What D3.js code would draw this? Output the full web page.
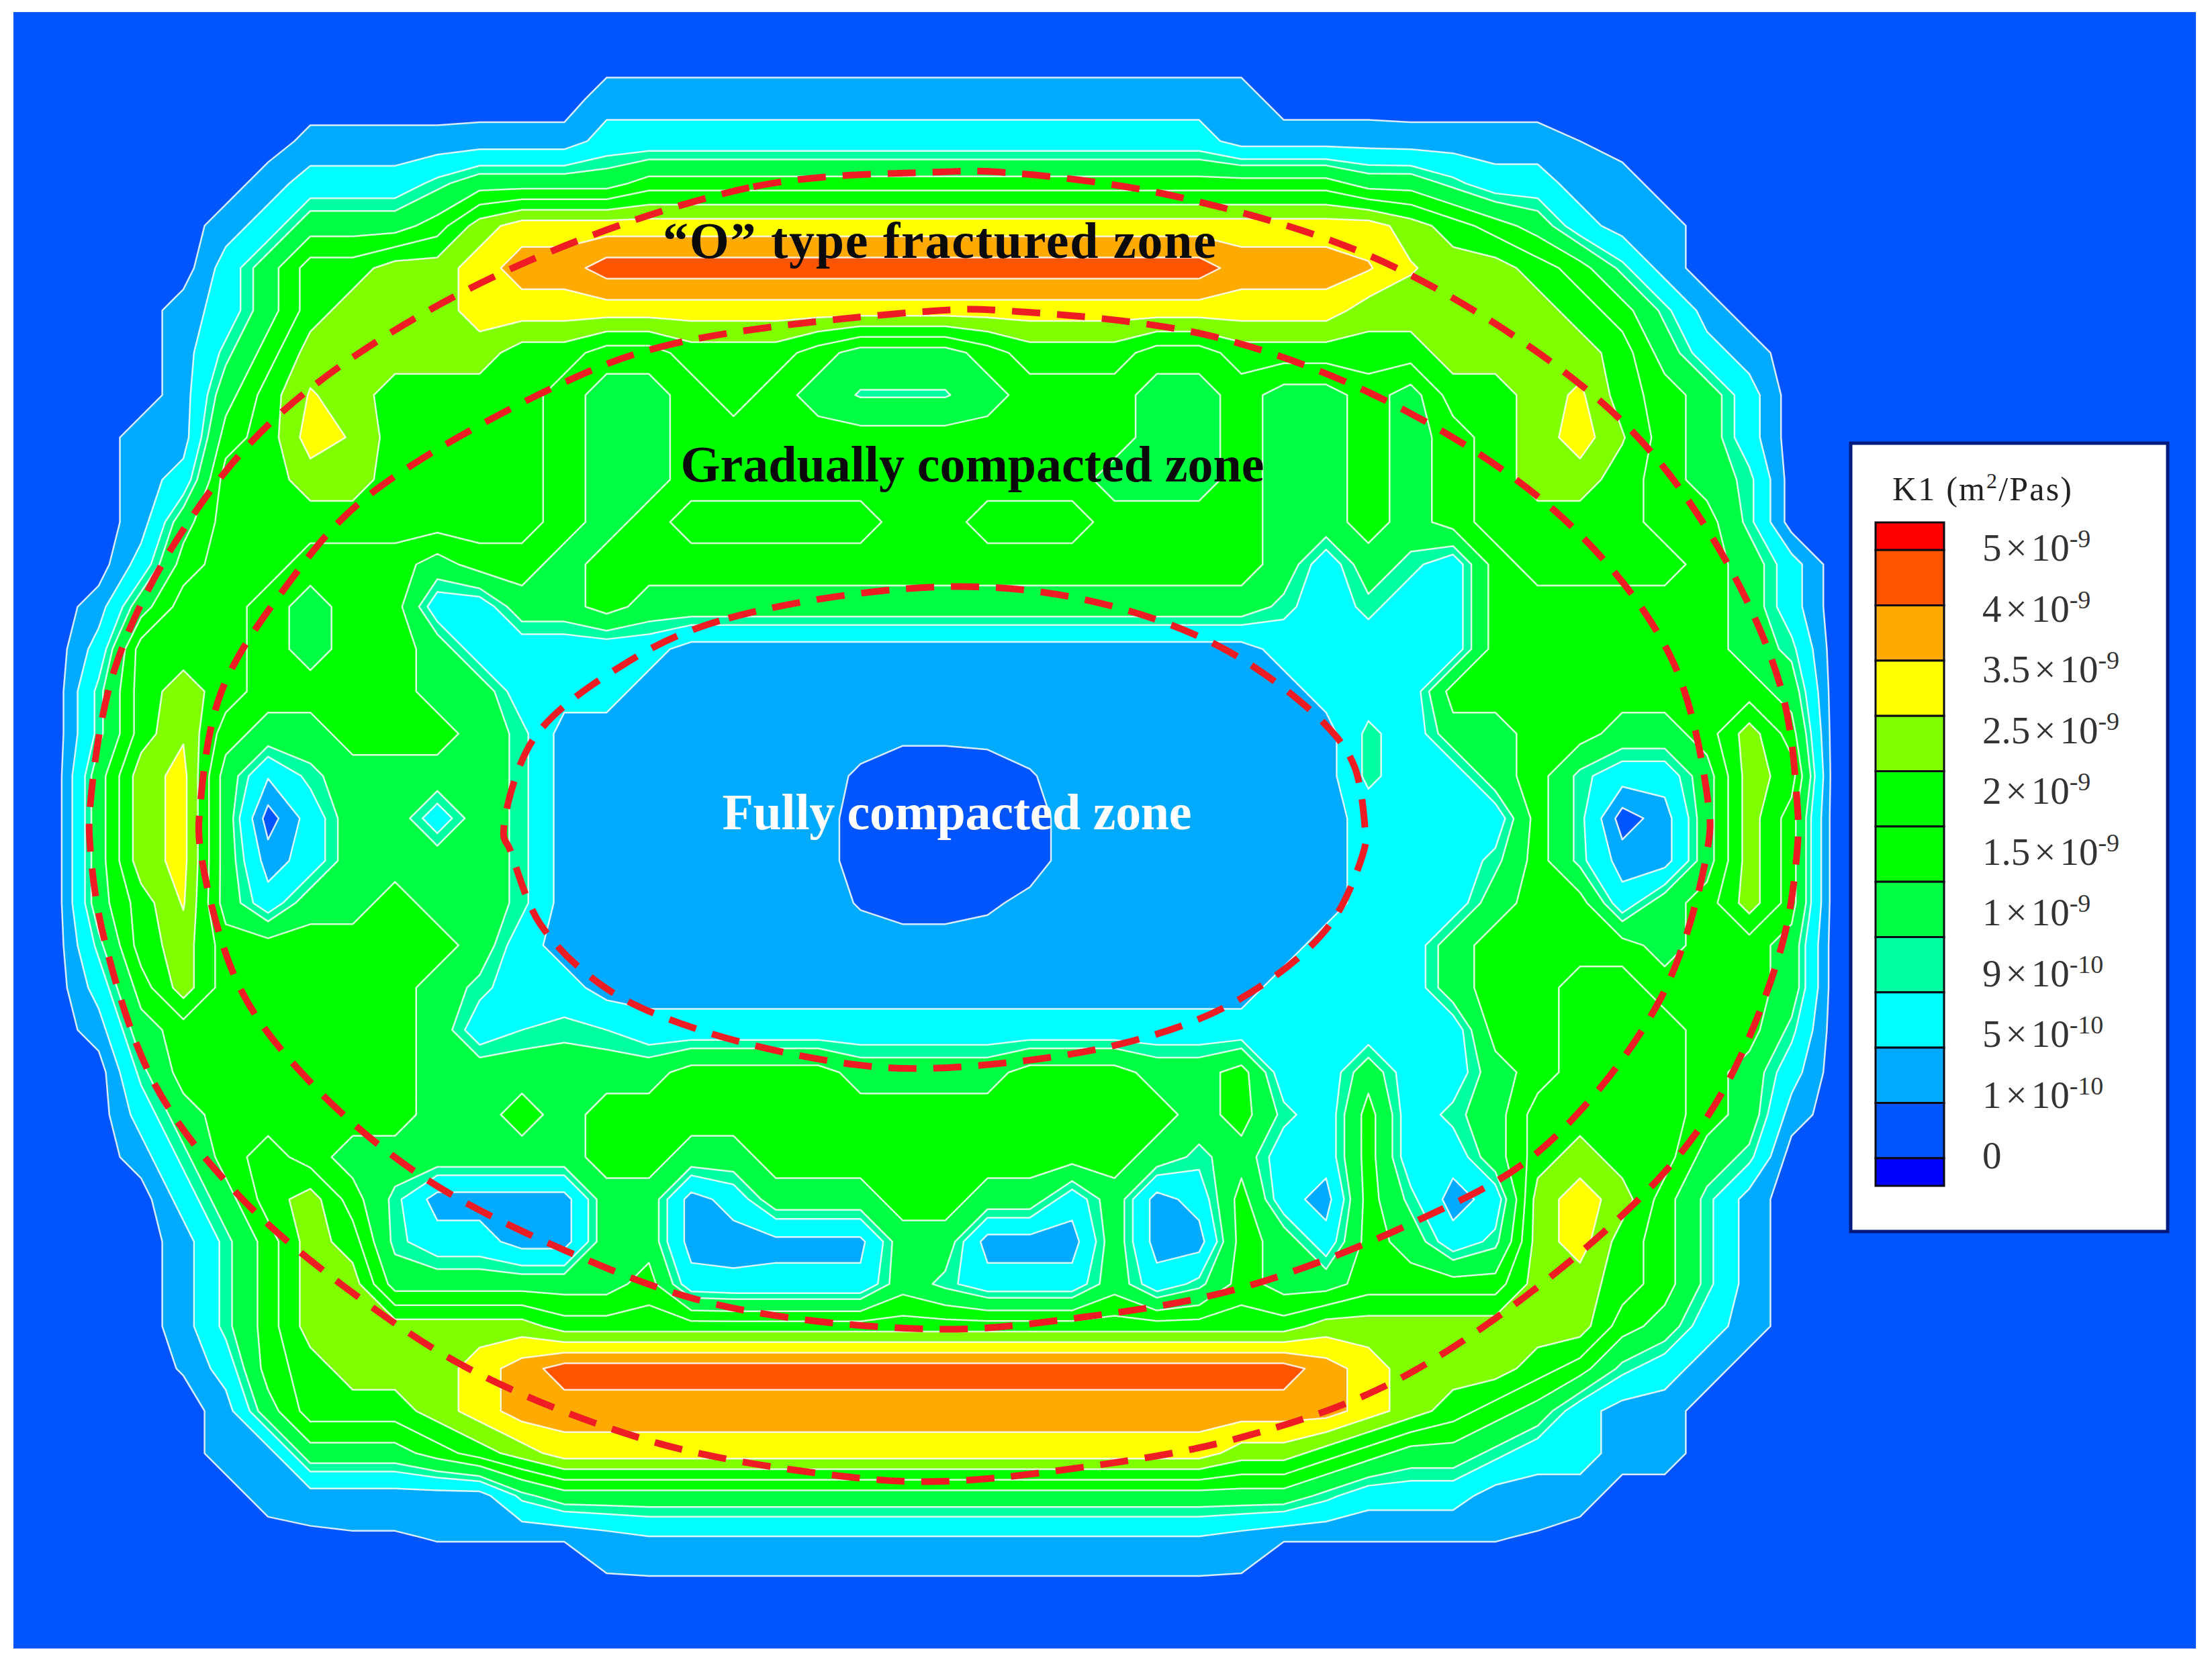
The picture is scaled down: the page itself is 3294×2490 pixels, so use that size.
<!DOCTYPE html>
<html>
<head>
<meta charset="utf-8">
<script src="https://d3js.org/d3.v7.min.js"></script>
<style>
  html, body { margin: 0; padding: 0; background: #fff; }
  text { font-family: "Liberation Serif", serif; }
</style>
</head>
<body>
<div id="chart"></div>
<script>
  // permeability band at every mesh node, row by row,
  // written as level*count runs (mesh step = 30 picture units)
  var permeabilityRows = [
    "1*53",
    "1*53",
    "1*14 2*16 1*23",
    "1*7 1.8*4 1.9*3 3*15 2*4 1.9*4 1.5 1*15",
    "1*6 2 3*3 4 5*4 6*17 5*2 4 3*2 2*2 1*14",
    "1*5 2 3 5*3 6 8 9*21 8 7 6 5 3 2*2 1*13",
    "1*5 3 5 7*2 8*2 9 10*2 11*15 10*3 9.6 8.6 8*2 7 6 4 2 1*13",
    "1*4 2 3 5 7 8*3 9*21 8*5 7 6 4 2 1*12",
    "1*4 2 4 6 8*5 7*2 6*2 7*3 6 5*3 6 7*3 6*2 7*5 8*4 7 5 3 2 1*11",
    "1*4 2 5 7 8.6 8 7*4 6 5*2 6 7 6 5 4.2*3 5 6*3 5*2 6 5*2 6 5 7*2 8 8.7 7 6 5 3 1*11",
    "1*3 2*2 6 7 9 8.4 7*4 6 5*2 6*11 5*2 6 5*2 6 5 6 7 8 9 7.6 6 5 3 1*11",
    "1*3 2 3 7*2 8*2 7*4 6 5*2 6*10 5*3 6 5*2 6 5 6 7 8*2 7 6 5 4 1*11",
    "1*3 2 5 7*8 6 5 6 7*5 6*2 7*3 6*4 5*2 6 5 6 7*4 6*2 4 1*11",
    "1*3 3 6 7*2 6*3 5 6*2 5 6*16 5 3 5 4 3 6 7*4 6 5 3 1*10",
    "1*2 2 5 7*2 6 5 6*2 3*2 5*2 6 5*15 4 3 4 3*2 6*6 5 3 1*10",
    "1*2 3 7*3 6 5 6*2 5 3*5 2*14 3*5 6*6 5 4 1*10",
    "1*2 4 7 8 7 6*4 5*2 3*3 2*16 3*3 6*8 5 1*10",
    "1*2 4 7 8.4 6 5*2 6*3 5 4 2*8 1.7*2 1.8 2*8 4 3 5*2 6*2 5*2 6 8 6 1*10",
    "1*2 5 8.1 8.8 5 2.6 4 5*4 4 2*7 1.3 1*3 1.4 2*7 4 3*2 5 6 4 3*2 5 8 7 1*10",
    "1*2 5 8.1 8.8 5 1 3 5*2 3 5 4 2*7 1*5 2*7 3*4 6 4 1 2 5 8 6 1*10",
    "1*2 5 8.1 8.8 5 2 3 5*4 4 2*7 1*5 2*7 3*3 4 6 4 2*2 5 8 6 1*10",
    "1*2 5 7 8.6 5 3 5*2 6 5*2 4 2*7 1.4 1*2 1.3 1.8 2*7 3*3 5 6*2 3 5 6 8 6 1*10",
    "1*2 4 7 8 6*6 5 3 2*18 3*3 5 6*4 5 6*2 5 1*10",
    "1*2 3 6 8 6*5 5 4 3*2 2*16 3*4 5 6*2 7*2 6*3 5 1*10",
    "1*2 2 5 6*6 5 3 3.7 4 3.7 3*20 6*2 7*3 6*2 4 1*10",
    "1*3 4 6*6 5*6 6*4 5*4 6*3 5*2 6 3*2 5 3*2 5 6 7*3 6 5 3 1*10",
    "1*3 3 5 6*5 5*2 6 5 6*14 5 6 4 3 6 3 4 5 7*4 6 5 2 1*10",
    "1*3 2 4 6 7 6 5*6 6*2 5*2 6*9 5 4 5 3*2 6 3*2 5 7 8 7*2 5 4 1*11",
    "1*4 3 5 7 8 6 4 2*4 5*2 2 3 5*3 6*2 5*2 3 5 2 3 6 3 2 6 4 2 3 8 9 8 6 4 2 1*11",
    "1*4 2 4 6 8 7 4 3*2 2*2 5*2 2*2 2.2*3 5*2 2*3 5 2*2 6 5 3 6 5 3 4 8 9 7 6 4 2 1*11",
    "1*4 2 4 6 8*2 5*6 6 3 2.8*4 5 4 3*3 5 3 4 6 5*2 6*4 8*2 7 6 4 2 1*11",
    "1*4 2 4 6 8*6 7*18 8*7 6 5 3 2 1*11",
    "1*4 1.6 3 6 7 8*3 9 10 11*18 10 9 8*3 7 6 4 3 2 1*12",
    "1*5 2 5 7*3 8 9 10*20 9 8 7 6 5 3 2*2 1*13",
    "1*5 2*2 5*3 6 7 8 9*16 8*2 7 6 5*2 4 3*2 2*2 1*13",
    "1*6 2*6 4 5*18 4 3*3 2*3 1*15",
    "1*7 1.3 1.4*2 1.55*4 2 2.4*14 2 1.55*6 1.4 1*16",
    "1*14 1.4*16 1*23",
    "1*53",
    "1*53"
  ];

  // lower edge of each drawn band on the node scale, the 9e-10 band is a thin one
  var bandLevels = [2, 3, 4, 5, 6, 7, 8, 9, 10, 11];
  var bandFloors = [1.5, 2.5, 3.7, 4.3, 5.5, 6.5, 7.5, 8.5, 9.5, 10.5];

  // top to bottom in the legend bar
  var legendColors = ["#ff0000", "#ff5500", "#ffaa00", "#ffff00", "#80ff00", "#00ff00",
                      "#00ff00", "#00ff44", "#00ffa0", "#00ffff", "#00aaff", "#0055ff", "#0000ff"];
  var legendMantissa = ["5", "4", "3.5", "2.5", "2", "1.5", "1", "9", "5", "1", "0"];
  var legendExponent = ["-9", "-9", "-9", "-9", "-9", "-9", "-9", "-10", "-10", "-10", ""];

  // dashed zone outlines, picture units
  var outerZone = [[663,122],[531,133],[340,201],[200,292],[127,380],[81,475],[64,570],[64,602],
    [74,666],[110,769],[170,848],[255,920],[340,974],[467,1023],[595,1046],[663,1050],[752,1042],
    [879,1019],[998,974],[1147,864],[1215,784],[1262,674],[1274,602],[1274,570],[1262,486],
    [1215,383],[1143,292],[990,190],[837,140],[709,122]];
  var middleZone = [[667,220],[480,243],[400,271],[259,353],[204,414],[157,490],[142,570],[142,602],
    [170,700],[221,768],[298,833],[400,886],[510,925],[663,942],[764,934],[879,913],[1007,864],
    [1092,815],[1177,708],[1211,598],[1211,570],[1185,467],[1113,372],[998,292],[862,239],[709,220]];
  var innerZone = [[663,416],[510,440],[442,471],[378,524],[357,592],[361,601],[383,655],[429,700],
    [493,729],[595,753],[663,757],[794,740],[879,708],[943,655],[968,598],[968,592],[960,543],
    [939,513],[866,459],[769,425]];

  var width = 3294;
  var height = 2490;

  // unpack the runs into one flat list of node values
  var nodeRows = permeabilityRows.map(function(row) {
    var out = [];
    row.split(" ").forEach(function(run) {
      var p = run.split("*");
      for (var k = 0; k < (p.length > 1 ? +p[1] : 1); k++) out.push(+p[0]);
    });
    return out;
  });
  var nCols = nodeRows[0].length;
  var nRows = nodeRows.length;
  var values = d3.merge(nodeRows);

  var x = d3.scaleLinear().domain([0, 1568]).range([0, width]);
  var y = d3.scaleLinear().domain([0, 1185]).range([0, height]);
  var gridX = d3.scaleLinear().domain([0, nCols - 1]).range([x(10), x(10 + 30 * (nCols - 1))]);
  var gridY = d3.scaleLinear().domain([0, nRows - 1]).range([y(10), y(10 + 30 * (nRows - 1))]);

  // legend colour of a mesh level: level 12 is the red on top, level 0 the dark blue
  var levelColor = d3.scaleOrdinal()
    .domain(d3.range(12, -1, -1))
    .range(legendColors);

  var svg = d3.select("#chart").append("svg")
    .attr("width", width)
    .attr("height", height)
    .style("display", "block");

  svg.append("clipPath").attr("id", "plotClip")
    .append("rect")
    .attr("x", 20).attr("y", 18).attr("width", 3250).attr("height", 2437);

  var plot = svg.append("g").attr("clip-path", "url(#plotClip)");

  plot.append("rect")
    .attr("x", 20).attr("y", 18).attr("width", 3250).attr("height", 2437)
    .attr("fill", levelColor(1));

  // contours come back with node i at i + 0.5
  var project = d3.geoPath(d3.geoTransform({
    point: function(cx, cy) {
      this.stream.point(gridX(cx - 0.5), gridY(cy - 0.5));
    }
  }));

  var contours = d3.contours()
    .size([nCols, nRows])
    .thresholds(bandFloors)(values);

  plot.selectAll("path.band")
    .data(contours)
    .join("path")
    .attr("class", "band")
    .attr("d", project)
    .attr("fill", function(d, i) { return levelColor(bandLevels[i]); })
    .attr("stroke", "#ffffff")
    .attr("stroke-opacity", 0.85)
    .attr("stroke-width", 2.5)
    .attr("stroke-linejoin", "round");

  // dashed zone lines
  var zoneLine = d3.line()
    .x(function(d) { return x(d[0]); })
    .y(function(d) { return y(d[1]); })
    .curve(d3.curveCatmullRomClosed.alpha(0.5));

  plot.selectAll("path.zone")
    .data([outerZone, middleZone, innerZone])
    .join("path")
    .attr("class", "zone")
    .attr("d", zoneLine)
    .attr("fill", "none")
    .attr("stroke", "#f01c24")
    .attr("stroke-width", 10)
    .attr("stroke-dasharray", "42,25");

  // zone names
  var zoneText = svg.append("g")
    .attr("font-weight", "bold")
    .attr("font-size", 76)
    .attr("text-anchor", "middle");

  zoneText.append("text").attr("x", 1399).attr("y", 384)
    .attr("textLength", 824).attr("fill", "#0a0a0a")
    .text("\u201cO\u201d type fractured zone");
  zoneText.append("text").attr("x", 1448).attr("y", 717)
    .attr("textLength", 869).attr("fill", "#0a0a0a")
    .text("Gradually compacted zone");
  zoneText.append("text").attr("x", 1425).attr("y", 1235)
    .attr("textLength", 699).attr("fill", "#ffffff")
    .text("Fully compacted zone");

  // legend box
  var legend = svg.append("g");

  legend.append("rect")
    .attr("x", 2756).attr("y", 660).attr("width", 472).attr("height", 1174)
    .attr("fill", "#ffffff")
    .attr("stroke", "#001a80")
    .attr("stroke-width", 5);

  legend.append("text")
    .attr("x", 2818).attr("y", 745)
    .attr("font-size", 50)
    .attr("fill", "#222")
    .attr("textLength", 267)
    .html('K1 (m<tspan dy="-18" font-size="32">2</tspan><tspan dy="18">/Pas)</tspan>');

  // half swatch at both ends of the bar
  var legendY = d3.scaleLinear().domain([12.5, 0.5]).range([778, 1766]);

  legend.selectAll("rect.swatch")
    .data(d3.range(12, -1, -1))
    .join("rect")
    .attr("class", "swatch")
    .attr("x", 2793)
    .attr("width", 102)
    .attr("y", function(l) { return legendY(Math.min(l + 1, 12.5)); })
    .attr("height", function(l) {
      return legendY(Math.max(l, 0.5)) - legendY(Math.min(l + 1, 12.5));
    })
    .attr("fill", function(l) { return levelColor(l); })
    .attr("stroke", "#0a0a14")
    .attr("stroke-width", 3);

  var labelY = d3.scaleLinear().domain([0, legendMantissa.length - 1]).range([817, 1722]);

  var labels = legend.selectAll("text.tick")
    .data(legendMantissa)
    .join("text")
    .attr("class", "tick")
    .attr("x", 2952)
    .attr("y", function(d, i) { return labelY(i) + 18; })
    .attr("font-size", 57)
    .attr("fill", "#333");

  labels.each(function(d, i) {
    var t = d3.select(this);
    t.append("tspan").text(d);
    if (legendExponent[i] !== "") {
      t.append("tspan").attr("dx", 6).text("\u00d7");
      t.append("tspan").attr("dx", 6).text("10");
      t.append("tspan")
        .attr("dy", -20)
        .attr("font-size", 38)
        .text(legendExponent[i]);
    }
  });
</script>
</body>
</html>
